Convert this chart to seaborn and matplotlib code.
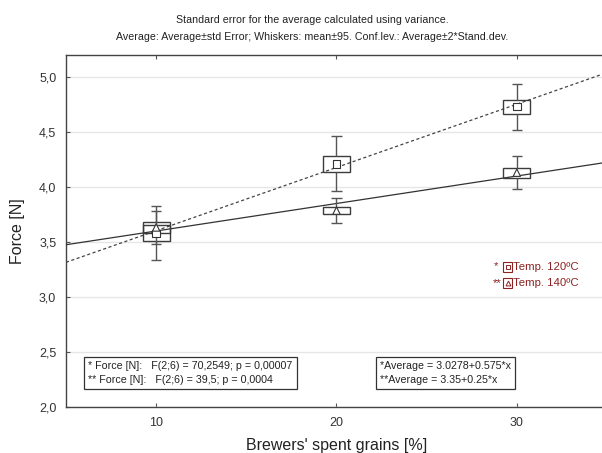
import numpy as np
import pandas as pd
import seaborn as sns
import matplotlib.pyplot as plt
from matplotlib.patches import Rectangle

# data
levels = [10, 20, 30]
t120_mean = [3.58, 4.21, 4.73]
t120_se = [0.075, 0.075, 0.064]
t120_ci = [0.248, 0.25, 0.21]
t140_mean = [3.632, 3.785, 4.13]
t140_se = [0.047, 0.033, 0.045]
t140_ci = [0.15, 0.112, 0.15]

# fitted lines from the annotation (x coded as level / 10)
fit120 = (3.0278, 0.575)
fit140 = (3.35, 0.25)

sns.set_theme(style="white")
plt.rcParams['font.family'] = ['Liberation Sans', 'DejaVu Sans']

fig = plt.figure(figsize=(6.02, 4.53), dpi=100)
ax = fig.add_axes([66 / 602, 46 / 453, 541 / 602, 352 / 453])

edge = '#3c3c3c'
box_half = 0.75
cap_half = 0.28

df = pd.DataFrame({
    'x': levels * 2,
    'mean': t120_mean + t140_mean,
    'se': t120_se + t140_se,
    'ci': t120_ci + t140_ci,
    'temp': ['120'] * 3 + ['140'] * 3,
})

# fit lines
xl = np.array([5, 35])
sns.lineplot(x=xl, y=fit120[0] + fit120[1] * xl / 10, ax=ax, color='#444444',
             lw=0.9, linestyle=(0, (2.5, 2)), zorder=3)
sns.lineplot(x=xl, y=fit140[0] + fit140[1] * xl / 10, ax=ax, color='#333333',
             lw=0.9, zorder=3)

# boxes (mean +- se) and whiskers (mean +- ci)
for _, r in df.iterrows():
    ax.add_patch(Rectangle((r['x'] - box_half, r['mean'] - r['se']), 2 * box_half, 2 * r['se'],
                           fill=False, ec=edge, lw=1.0, zorder=4))
    ax.vlines(r['x'], r['mean'] + r['se'], r['mean'] + r['ci'], color='#555555', lw=1.0, zorder=4)
    ax.vlines(r['x'], r['mean'] - r['ci'], r['mean'] - r['se'], color='#555555', lw=1.0, zorder=4)
    ax.hlines([r['mean'] + r['ci'], r['mean'] - r['ci']], r['x'] - cap_half, r['x'] + cap_half,
              color='#555555', lw=1.0, zorder=4)

sns.scatterplot(data=df, x='x', y='mean', style='temp', markers={'120': 's', '140': '^'},
                s=28, facecolor='white', edgecolor='#333333', linewidth=0.8,
                legend=False, ax=ax, zorder=5)

ax.set_xlim(5, 35)
ax.set_ylim(2.0, 5.2)
ax.set_xticks(levels)
yt = np.arange(2.0, 5.01, 0.5)
ax.set_yticks(yt)
ax.set_yticklabels([f"{v:.1f}".replace('.', ',') for v in yt])
ax.yaxis.grid(True, color='#e6e6e6', lw=1.0)
ax.set_axisbelow(True)
ax.tick_params(axis='both', direction='in', length=3, width=0.8, color='#555555',
               labelsize=9, labelcolor='#333333', pad=7)
ax.tick_params(axis='x', top=True, bottom=True)
ax.tick_params(axis='y', left=True)
for s in ['left', 'bottom', 'top']:
    ax.spines[s].set_color('#444444')
    ax.spines[s].set_linewidth(1.0)
ax.spines['right'].set_visible(False)

ax.set_xlabel("Brewers' spent grains [%]", fontsize=11.5, color='#222222', labelpad=7)
ax.set_ylabel("Force [N]", fontsize=11.5, color='#222222', labelpad=10)

fig.text(312 / 602, 1 - 20 / 453, "Standard error for the average calculated using variance.",
         ha='center', va='center', fontsize=7.7, color='#222222')
fig.text(312 / 602, 1 - 37 / 453,
         "Average: Average\u00b1std Error; Whiskers: mean\u00b195. Conf.lev.: Average\u00b12*Stand.dev.",
         ha='center', va='center', fontsize=7.7, color='#222222')

# legend
red = '#8b2323'
for i, (lab, star, mk) in enumerate([("Temp. 120\u00baC", "* ", 's'), ("Temp. 140\u00baC", "**", '^')]):
    yy = 267 + 16 * i
    fig.text(502 / 602, 1 - yy / 453, star, ha='right', va='center', fontsize=8.2, color=red)
    fig.patches.append(Rectangle((503 / 602, 1 - (yy + 5) / 453), 9 / 602, 10 / 453,
                                 transform=fig.transFigure, fill=False, ec=red, lw=0.8))
    fig.lines.append(plt.Line2D([507.5 / 602], [1 - yy / 453], marker=mk, ms=3.5, mfc='white',
                                mec=red, mew=0.7, transform=fig.transFigure))
    fig.text(513 / 602, 1 - yy / 453, lab, ha='left', va='center', fontsize=8.2, color=red)

# statistics boxes
bbox = dict(boxstyle='square,pad=0.4', fc='white', ec='#333333', lw=0.9)
fig.text(88 / 602, 1 - 373 / 453,
         "* Force [N]:   F(2;6) = 70,2549; p = 0,00007\n** Force [N]:   F(2;6) = 39,5; p = 0,0004",
         ha='left', va='center', fontsize=7.7, color='#222222', linespacing=1.55, bbox=bbox)
fig.text(380 / 602, 1 - 373 / 453,
         "*Average = 3.0278+0.575*x\n**Average = 3.35+0.25*x",
         ha='left', va='center', fontsize=7.7, color='#222222', linespacing=1.55, bbox=bbox)

fig.savefig('out.png', dpi=100)
